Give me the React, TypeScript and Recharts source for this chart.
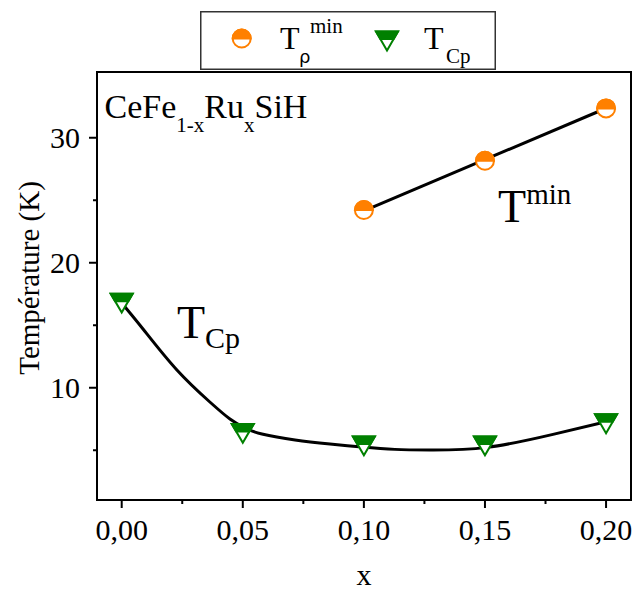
import React from 'react';
import {
  ComposedChart, Line, Scatter, XAxis, YAxis, ReferenceArea, ReferenceDot, Legend,
} from 'recharts';

// ---- data ----
const xTicks = [0, 0.025, 0.05, 0.075, 0.1, 0.125, 0.15, 0.175, 0.2];
const yTicks = [5, 10, 15, 20, 25, 30];
const rightTicks = [5, 10, 15, 20, 25, 30, 35];

const cpX = [0, 0.05, 0.1, 0.15, 0.2];
const cpT = [16.77, 6.35, 5.35, 5.35, 7.12];

const minX = [0.1, 0.15, 0.2];
const minT = [24.22, 28.16, 32.35];

const fitCpX = [0, 0.0088, 0.0228, 0.0364, 0.0447, 0.0509, 0.0579, 0.0716, 0.086, 0.0992, 0.1128, 0.1273, 0.1508, 0.1781, 0.2];
const fitCpT = [16.78, 14.7, 11.42, 8.86, 7.5, 6.78, 6.3, 5.82, 5.5, 5.26, 5.07, 5.02, 5.23, 6.27, 7.28];

const fitMinX = [0.1, 0.2];
const fitMinT = [24.15, 32.36];

const X_DOMAIN = [-0.0102, 0.2103];
const Y_DOMAIN = [1.02, 35.26];

const cpData = cpX.map((x, i) => ({ x, y: cpT[i] }));
const minData = minX.map((x, i) => ({ x, y: minT[i] }));
const fitCpData = fitCpX.map((x, i) => ({ x, y: fitCpT[i] }));
const fitMinData = fitMinX.map((x, i) => ({ x, y: fitMinT[i] }));

const FONT = 'Liberation Serif, Times New Roman, serif';
const ORANGE = '#FF8000';
const GREEN = '#008000';

const HalfCircle = ({ cx, cy }: any) => {
  const r = 9;
  return (
    <g>
      <circle cx={cx} cy={cy} r={r} fill="#fff" stroke={ORANGE} strokeWidth={2} />
      <path d={`M${cx - r},${cy} A${r},${r} 0 0 1 ${cx + r},${cy} Z`} fill={ORANGE} stroke={ORANGE} strokeWidth={2} />
    </g>
  );
};

const HalfTriangle = ({ cx, cy }: any) => {
  const w = 11;
  const h = 9.5;
  const t = 0.4;
  const yb = cy - h + 2 * h * t;
  const wb = w * (1 - t);
  return (
    <g>
      <polygon points={`${cx - w},${cy - h} ${cx + w},${cy - h} ${cx},${cy + h}`} fill="#fff" stroke={GREEN} strokeWidth={2} strokeLinejoin="miter" />
      <polygon points={`${cx - w},${cy - h} ${cx + w},${cy - h} ${cx + wb},${yb} ${cx - wb},${yb}`} fill={GREEN} stroke={GREEN} strokeWidth={2} />
    </g>
  );
};

const fmtX = (v: number) => v.toFixed(2).replace('.', ',');

const XTick = ({ x, y, payload }: any) => {
  const v = payload.value;
  const major = Math.abs(v / 0.05 - Math.round(v / 0.05)) < 1e-6;
  return (
    <g>
      <line x1={x} y1={y} x2={x} y2={y + (major ? 8 : 4)} stroke="#000" strokeWidth={2} />
      {major && (
        <text x={x} y={y + 40} textAnchor="middle" style={{ fontFamily: FONT }} fontSize={30} fill="#000">
          {fmtX(v)}
        </text>
      )}
    </g>
  );
};

const YTick = ({ x, y, payload }: any) => {
  const v = payload.value;
  const major = v % 10 === 0;
  return (
    <g>
      <line x1={x} y1={y} x2={x - (major ? 8 : 4)} y2={y} stroke="#000" strokeWidth={2} />
      {major && (
        <text x={x - 17} y={y + 10} textAnchor="end" style={{ fontFamily: FONT }} fontSize={30} fill="#000">
          {v}
        </text>
      )}
    </g>
  );
};

const LegendBox = () => (
  <svg width={296} height={59} style={{ display: 'block' }}>
    <rect x={0.75} y={0.75} width={294.5} height={57.5} fill="#fff" stroke="#333" strokeWidth={1.5} />
    <HalfCircle cx={41.7} cy={27.5} />
    <text x={80} y={38} style={{ fontFamily: FONT }} fontSize={32} fill="#000">T</text>
    <text x={99} y={52} style={{ fontFamily: 'DejaVu Sans, sans-serif' }} fontSize={18} fill="#000">ρ</text>
    <text x={110} y={22} style={{ fontFamily: FONT }} fontSize={21} fill="#000">min</text>
    <HalfTriangle cx={187} cy={30} />
    <text x={224} y={38} style={{ fontFamily: FONT }} fontSize={32} fill="#000">T</text>
    <text x={246} y={52} style={{ fontFamily: FONT }} fontSize={21} fill="#000">Cp</text>
  </svg>
);

const textLabel = (render: (x: number, y: number) => React.ReactNode) => ({
  content: (props: any) => {
    const vb = props.viewBox || {};
    return <g>{render(vb.x, vb.y)}</g>;
  },
});

export default function App() {
  return (
    <div style={{ position: 'absolute', left: 0, top: 0, width: 632, height: 590, background: '#fff' }}>
      <ComposedChart width={632} height={590} margin={{ top: 72, right: 1, bottom: 0, left: 0 }}>
        <XAxis
          dataKey="x"
          type="number"
          domain={X_DOMAIN}
          allowDataOverflow
          ticks={xTicks}
          interval={0}
          tick={<XTick />}
          tickLine={false}
          tickSize={0}
          tickMargin={0}
          axisLine={false}
          height={90}
          label={{
            content: (p: any) => {
              const vb = p.viewBox;
              return (
                <text x={vb.x + vb.width * (0.1 - X_DOMAIN[0]) / (X_DOMAIN[1] - X_DOMAIN[0])} y={vb.y + 85} textAnchor="middle" style={{ fontFamily: FONT }} fontSize={30} fill="#000">x</text>
              );
            },
          }}
        />
        <YAxis
          dataKey="y"
          type="number"
          domain={Y_DOMAIN}
          allowDataOverflow
          ticks={yTicks}
          interval={0}
          tick={<YTick />}
          tickLine={false}
          tickSize={0}
          tickMargin={0}
          axisLine={false}
          width={97}
          label={{
            content: (p: any) => {
              const vb = p.viewBox;
              const cx = 29;
              const cy = vb.y + vb.height / 2 - 8;
              return (
                <text x={cx} y={cy} transform={`rotate(-90, ${cx}, ${cy})`} textAnchor="middle" dominantBaseline="central" style={{ fontFamily: FONT }} fontSize={29} fill="#000">Température (K)</text>
              );
            },
          }}
        />
        <YAxis
          yAxisId="r"
          orientation="right"
          mirror
          type="number"
          domain={Y_DOMAIN}
          allowDataOverflow
          ticks={rightTicks}
          interval={0}
          tick={false}
          tickSize={5}
          tickLine={{ stroke: '#000', strokeWidth: 2 }}
          axisLine={false}
          width={1}
        />
        <ReferenceArea x1={X_DOMAIN[0]} x2={X_DOMAIN[1]} y1={Y_DOMAIN[0]} y2={Y_DOMAIN[1]} fill="none" fillOpacity={0} stroke="#000" strokeWidth={2} ifOverflow="visible" />
        <Line data={fitCpData} dataKey="y" type="natural" stroke="#000" strokeWidth={3} dot={false} activeDot={false} isAnimationActive={false} legendType="none" />
        <Line data={fitMinData} dataKey="y" type="linear" stroke="#000" strokeWidth={3} dot={false} activeDot={false} isAnimationActive={false} legendType="none" />
        <Scatter data={minData} dataKey="y" shape={<HalfCircle />} isAnimationActive={false} name="Tmin" />
        <Scatter data={cpData} dataKey="y" shape={<HalfTriangle />} isAnimationActive={false} name="TCp" />
        <ReferenceDot
          x={-0.0071}
          y={31.58}
          r={0}
          ifOverflow="visible"
          label={textLabel((x, y) => (
            <text x={x} y={y} style={{ fontFamily: FONT }} fontSize={34} fill="#000">
              CeFe<tspan fontSize={21} dy={14}>1-x</tspan>
              <tspan dy={-14}>Ru</tspan>
              <tspan fontSize={21} dy={14}>x</tspan>
              <tspan dy={-14}>SiH</tspan>
            </text>
          ))}
        />
        <ReferenceDot
          x={0.0228}
          y={14.0}
          r={0}
          ifOverflow="visible"
          label={textLabel((x, y) => (
            <text x={x} y={y} style={{ fontFamily: FONT }} fontSize={46} fill="#000">
              T<tspan fontSize={30} dy={10}>Cp</tspan>
            </text>
          ))}
        />
        <ReferenceDot
          x={0.1554}
          y={23.3}
          r={0}
          ifOverflow="visible"
          label={textLabel((x, y) => (
            <text x={x} y={y} style={{ fontFamily: FONT }} fontSize={46} fill="#000">
              T<tspan fontSize={29} dy={-18}>min</tspan>
            </text>
          ))}
        />
        <Legend
          layout="vertical"
          align="center"
          verticalAlign="middle"
          wrapperStyle={{ left: 200, top: 11, width: 296, height: 59 }}
          content={() => <LegendBox />}
        />
      </ComposedChart>
    </div>
  );
}
